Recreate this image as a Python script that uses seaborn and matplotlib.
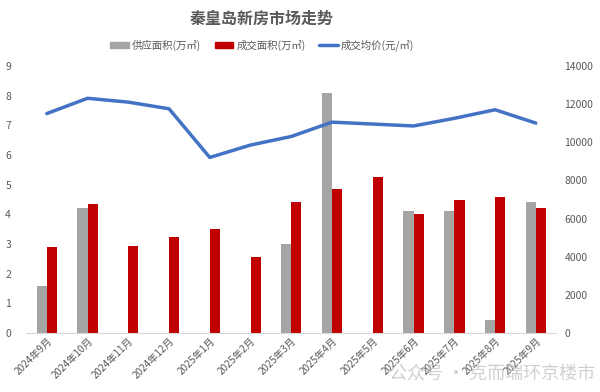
import numpy as np
import pandas as pd
import seaborn as sns
import matplotlib.pyplot as plt
from matplotlib.patches import Patch
from matplotlib.lines import Line2D

# data
months = ['2024年9月', '2024年10月', '2024年11月', '2024年12月', '2025年1月', '2025年2月',
          '2025年3月', '2025年4月', '2025年5月', '2025年6月', '2025年7月', '2025年8月', '2025年9月']
supply = [1.6, 4.2, 0, 0, 0, 0, 3.0, 8.1, 0, 4.1, 4.1, 0.45, 4.4]
deal = [2.9, 4.35, 2.92, 3.23, 3.5, 2.55, 4.43, 4.85, 5.27, 4.0, 4.47, 4.58, 4.2]
price = [11500, 12300, 12100, 11750, 9200, 9850, 10300, 11050, 10950, 10850, 11250, 11700, 11000]

sns.set_style('white')
plt.rcParams['font.family'] = ['Noto Sans CJK SC', 'DejaVu Sans']
txt = '#595959'

df = pd.DataFrame({'month': months * 2,
                   'value': supply + deal,
                   'kind': ['供应面积(万㎡)'] * 13 + ['成交面积(万㎡)'] * 13})

fig = plt.figure(figsize=(6, 3.92), dpi=100)
ax1 = fig.add_axes([0.044, 0.1505, 0.883, 0.6815])

sns.barplot(data=df, x='month', y='value', hue='kind', ax=ax1,
            palette=['#a5a5a5', '#c00000'], width=0.5, gap=0, legend=False,
            saturation=1, linewidth=0)
ax1.set_ylim(0, 9)
ax1.set_yticks(range(10))
ax1.set_xlim(-0.5, 12.5)
ax1.set_xlabel('')
ax1.set_ylabel('')

ax2 = ax1.twinx()
sns.lineplot(x=np.arange(len(months)), y=price, ax=ax2, color='#4472c4', linewidth=2.5)
ax2.set_ylim(0, 14000)
ax2.set_yticks(range(0, 14001, 2000))
ax2.set_xlim(-0.5, 12.5)

for a in (ax1, ax2):
    for s in a.spines.values():
        s.set_visible(False)
    a.tick_params(axis='y', length=0, labelsize=7.5, colors=txt)
ax1.tick_params(axis='y', pad=11)
ax2.tick_params(axis='y', pad=6)
ax1.spines['bottom'].set_visible(True)
ax1.spines['bottom'].set_color('#d9d9d9')
ax1.tick_params(axis='x', length=0, labelsize=7.2, colors=txt, pad=2)
ax1.set_xticks(range(len(months)))
ax1.set_xticklabels(months, rotation=45, ha='right', rotation_mode='anchor')
ax1.set_xticks(np.arange(-0.5, 13, 1), minor=True)
ax1.tick_params(axis='x', which='minor', length=4, color='#d9d9d9')

fig.text(0.437, 0.953, '秦皇岛新房市场走势', ha='center', va='center', fontsize=11.5,
         color=txt, fontweight='bold')

handles = [Patch(color='#a5a5a5'), Patch(color='#c00000'),
           Line2D([], [], color='#4472c4', linewidth=2.5)]
labels = ['供应面积(万㎡)', '成交面积(万㎡)', '成交均价(元/㎡)']
fig.legend(handles, labels, loc='center', bbox_to_anchor=(0.437, 0.885), ncol=3,
           frameon=False, fontsize=7.5, labelcolor=txt, handlelength=1.8,
           handleheight=0.45, columnspacing=1.3, handletextpad=0.3)

fig.text(0.82, 0.045, '公众号 · 克而瑞环京楼市', ha='center', va='center', fontsize=13,
         color='#bbbbbb', alpha=0.7)

fig.savefig('out.png', dpi=100)
